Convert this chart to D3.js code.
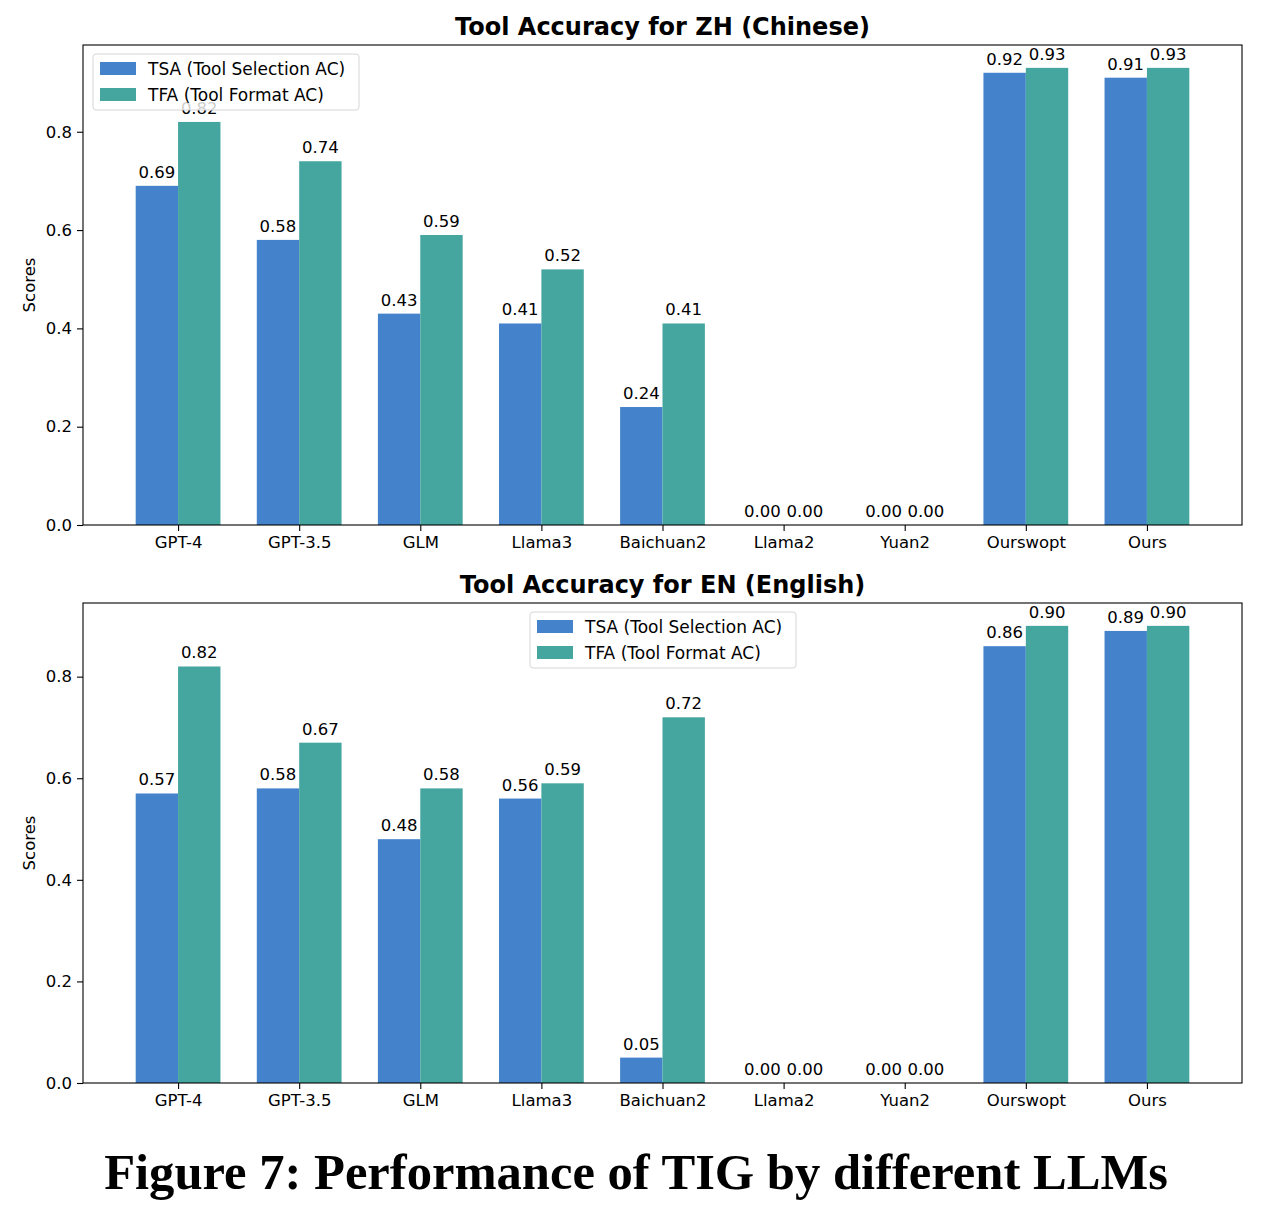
<!DOCTYPE html>
<html>
<head>
<meta charset="utf-8">
<script src="https://cdn.jsdelivr.net/npm/d3@7"></script>
<style>
  body { margin: 0; background: #fff; }
</style>
</head>
<body>
<svg id="wrapper" width="1269" height="1210" font-family="DejaVu Sans, sans-serif"></svg>
<script>
let models = ["GPT-4", "GPT-3.5", "GLM", "Llama3", "Baichuan2", "Llama2", "Yuan2", "Ourswopt", "Ours"];
let seriesNames = ["TSA (Tool Selection AC)", "TFA (Tool Format AC)"];

let zhTSA = [0.69, 0.58, 0.43, 0.41, 0.24, 0.00, 0.00, 0.92, 0.91];
let zhTFA = [0.82, 0.74, 0.59, 0.52, 0.41, 0.00, 0.00, 0.93, 0.93];
let enTSA = [0.57, 0.58, 0.48, 0.56, 0.05, 0.00, 0.00, 0.86, 0.89];
let enTFA = [0.82, 0.67, 0.58, 0.59, 0.72, 0.00, 0.00, 0.90, 0.90];

let yTicks = [0.0, 0.2, 0.4, 0.6, 0.8];
let colors = ["#4483cb", "#45a59f"];

const smallFont = 16.5;

let svg = d3.select("#wrapper");

let drawPanel = function (opts) {
	let left = 83, right = 1242;
	let top = opts.top, bottom = opts.bottom;
	let g = svg.append("g");

	let maxVal = d3.max(opts.tsa.concat(opts.tfa));
	let y = d3.scaleLinear().domain([0, maxVal * 1.05]).range([bottom, top]);
	// matplotlib style x: integer positions, bars of width 0.35 each side
	let x = d3.scaleLinear().domain([-0.785, models.length - 1 + 0.785]).range([left, right]);
	let w = 0.35;

	let rows = [];
	models.forEach((m, i) => {
		rows.push({ i: i, s: 0, v: opts.tsa[i] });
		rows.push({ i: i, s: 1, v: opts.tfa[i] });
	});

	g.selectAll("rect.bar")
		.data(rows)
		.enter()
		.append("rect")
		.attr("class", "bar")
		.attr("x", (d) => x(d.s === 0 ? d.i - w : d.i))
		.attr("width", x(w) - x(0))
		.attr("y", (d) => y(d.v))
		.attr("height", (d) => y(0) - y(d.v))
		.attr("fill", (d) => colors[d.s]);

	g.selectAll("text.val")
		.data(rows)
		.enter()
		.append("text")
		.attr("class", "val")
		.attr("x", (d) => x(d.s === 0 ? d.i - w / 2 : d.i + w / 2))
		.attr("y", (d) => y(d.v) - 8)
		.attr("text-anchor", "middle")
		.attr("font-size", smallFont)
		.text((d) => d.v.toFixed(2));

	// axes
	let yAxis = d3.axisLeft(y).tickValues(yTicks).tickFormat(d3.format(".1f")).tickSize(6).tickPadding(5);
	let ya = g.append("g").attr("transform", "translate(" + left + ",0)").call(yAxis);
	let xAxis = d3.axisBottom(x).tickValues(d3.range(models.length)).tickFormat((d) => models[d]).tickSize(6).tickPadding(5);
	let xa = g.append("g").attr("transform", "translate(0," + bottom + ")").call(xAxis);
	[ya, xa].forEach((a) => {
		a.select(".domain").remove();
		a.selectAll("line").attr("stroke", "#000").attr("stroke-width", 1.1);
		a.selectAll("text").attr("font-size", smallFont).attr("fill", "#000").attr("font-family", "DejaVu Sans, sans-serif");
	});

	g.append("rect")
		.attr("x", left)
		.attr("y", top)
		.attr("width", right - left)
		.attr("height", bottom - top)
		.attr("fill", "none")
		.attr("stroke", "#000")
		.attr("stroke-width", 1.1);

	g.append("text")
		.attr("x", (left + right) / 2)
		.attr("y", top - 10)
		.attr("text-anchor", "middle")
		.attr("font-size", 24)
		.attr("font-weight", "bold")
		.text(opts.title);

	g.append("text")
		.attr("transform", "translate(35," + (top + bottom) / 2 + ") rotate(-90)")
		.attr("text-anchor", "middle")
		.attr("font-size", smallFont)
		.text("Scores");

	// legend
	let lg = g.append("g").attr("transform", "translate(" + opts.legendX + "," + opts.legendY + ")");
	lg.append("rect")
		.attr("width", 266)
		.attr("height", 56)
		.attr("rx", 3)
		.attr("fill", "#fff")
		.attr("fill-opacity", 0.8)
		.attr("stroke", "#d6d6d6");
	seriesNames.forEach((name, k) => {
		lg.append("rect")
			.attr("x", 7)
			.attr("y", 8 + k * 26)
			.attr("width", 36)
			.attr("height", 13)
			.attr("fill", colors[k]);
		lg.append("text")
			.attr("x", 55)
			.attr("y", 21 + k * 26)
			.attr("font-size", 17)
			.text(name);
	});
};

drawPanel({ title: "Tool Accuracy for ZH (Chinese)", tsa: zhTSA, tfa: zhTFA, top: 45, bottom: 525, legendX: 93, legendY: 54 });
drawPanel({ title: "Tool Accuracy for EN (English)", tsa: enTSA, tfa: enTFA, top: 603, bottom: 1083, legendX: 530, legendY: 612 });

// caption, sized to the width it takes in the figure
let caption = svg.append("text")
	.attr("x", 636)
	.attr("y", 1189)
	.attr("text-anchor", "middle")
	.style("font-family", "'Liberation Serif', 'DejaVu Serif', serif")
	.style("font-weight", "bold")
	.style("font-size", "46px")
	.text("Figure 7: Performance of TIG by different LLMs");
let cw = caption.node().getComputedTextLength();
caption.style("font-size", (46 * 1063 / cw).toFixed(1) + "px");
</script>
</body>
</html>
